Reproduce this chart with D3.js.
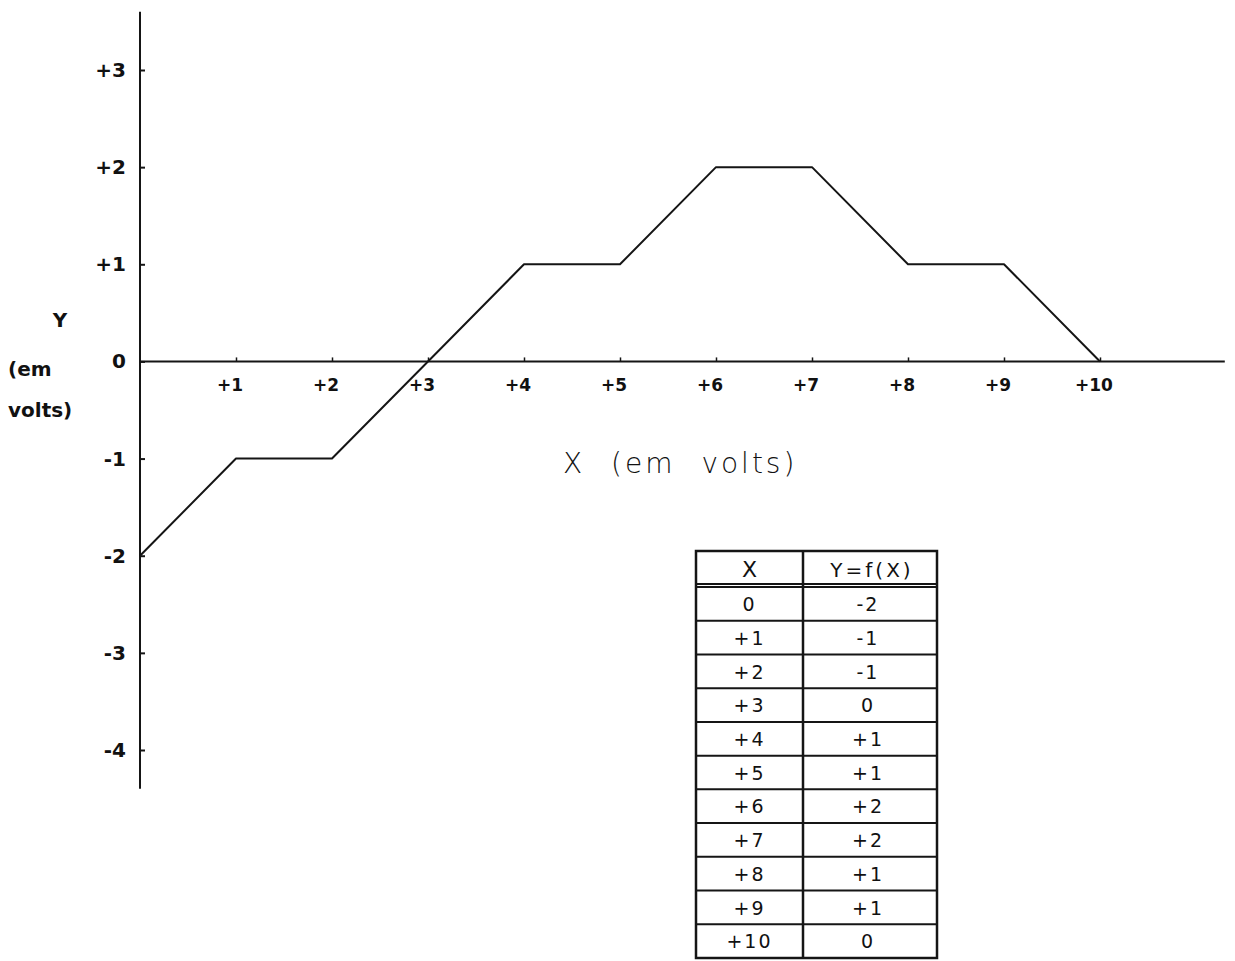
<!DOCTYPE html>
<html>
<head>
<meta charset="utf-8">
<script src="https://cdn.jsdelivr.net/npm/d3@7/dist/d3.min.js"></script>
<style>
  html, body { margin: 0; padding: 0; background: #fff; }
  svg { display: block; }
  text { font-family: "DejaVu Sans", sans-serif; fill: #111; }
</style>
</head>
<body>
<svg id="chart" width="1235" height="961"></svg>
<script>
// Transfer characteristic Y = f(X), both in volts
const xValues = [0, 1, 2, 3, 4, 5, 6, 7, 8, 9, 10];
const yValues = [-2, -1, -1, 0, 1, 1, 2, 2, 1, 1, 0];

const xTicks = [1, 2, 3, 4, 5, 6, 7, 8, 9, 10];
const xTickLabels = ["+1", "+2", "+3", "+4", "+5", "+6", "+7", "+8", "+9", "+10"];
const yTicks = [3, 2, 1, 0, -1, -2, -3, -4];
const yTickLabels = ["+3", "+2", "+1", "0", "-1", "-2", "-3", "-4"];

const tableHeader = ["X", "Y=f(X)"];
const tableX = ["0", "+1", "+2", "+3", "+4", "+5", "+6", "+7", "+8", "+9", "+10"];
const tableY = ["-2", "-1", "-1", "0", "+1", "+1", "+2", "+2", "+1", "+1", "0"];

const svg = d3.select("#chart");
const ink = "#151515";

const x = d3.scaleLinear().domain([0, 10]).range([140, 1100]);
const y = d3.scaleLinear().domain([-4, 3]).range([750, 70]);

// vertical axis (Y)
const yAxis = d3.axisRight(y)
  .tickValues(yTicks)
  .tickSize(5)
  .tickFormat("");
const gy = svg.append("g").attr("transform", `translate(${x(0)},0)`).call(yAxis);
gy.select(".domain").remove();
gy.selectAll(".tick line").attr("stroke", ink).attr("stroke-width", 2);
svg.append("line")
  .attr("x1", x(0)).attr("x2", x(0))
  .attr("y1", y(3.6)).attr("y2", y(-4.4))
  .attr("stroke", ink).attr("stroke-width", 2);

// horizontal axis (X)
const xAxis = d3.axisTop(x)
  .tickValues(xTicks)
  .tickSize(4)
  .tickFormat("");
const gx = svg.append("g").attr("transform", `translate(0,${y(0)})`).call(xAxis);
gx.select(".domain").remove();
gx.selectAll(".tick line").attr("stroke", ink).attr("stroke-width", 1.5);
svg.append("line")
  .attr("x1", x(0)).attr("x2", x(11.3))
  .attr("y1", y(0)).attr("y2", y(0))
  .attr("stroke", ink).attr("stroke-width", 2);

// y tick labels
svg.append("g").selectAll("text")
  .data(yTicks)
  .join("text")
  .attr("x", x(0) - 14)
  .attr("y", d => y(d))
  .attr("dy", "0.35em")
  .attr("text-anchor", "end")
  .attr("font-size", 20)
  .attr("font-weight", 600)
  .text((d, i) => yTickLabels[i]);

// x tick labels
svg.append("g").selectAll("text")
  .data(xTicks)
  .join("text")
  .attr("x", d => x(d) - 6)
  .attr("y", y(0) + 30)
  .attr("text-anchor", "middle")
  .attr("font-size", 17)
  .attr("font-weight", 600)
  .text((d, i) => xTickLabels[i]);

// axis titles
svg.append("text").attr("x", 60).attr("y", 327).attr("text-anchor", "middle")
  .attr("font-size", 20).attr("font-weight", 600).text("Y");
svg.append("text").attr("x", 8).attr("y", 376)
  .attr("font-size", 20).attr("font-weight", 600).text("(em");
svg.append("text").attr("x", 8).attr("y", 417)
  .attr("font-size", 20).attr("font-weight", 600).text("volts)");
svg.append("text").attr("x", 563).attr("y", 473)
  .attr("font-size", 28).attr("font-weight", 300)
  .attr("letter-spacing", 3).style("word-spacing", "14px")
  .text("X (em volts)");

// the characteristic curve
const line = d3.line()
  .x(d => x(d[0]))
  .y(d => y(d[1]));
svg.append("path")
  .datum(xValues.map((v, i) => [v, yValues[i]]))
  .attr("d", line)
  .attr("fill", "none")
  .attr("stroke", ink)
  .attr("stroke-width", 2)
  .attr("stroke-linejoin", "round");

// value table
const tLeft = 696, tMid = 803, tRight = 937;
const tTop = 551, headerH = 36, tBottom = 958;
const rowH = (tBottom - (tTop + headerH)) / tableX.length;
const table = svg.append("g");

const rowY = d3.scaleLinear().domain([0, tableX.length]).range([tTop + headerH, tBottom]);

table.append("rect")
  .attr("x", tLeft).attr("y", tTop)
  .attr("width", tRight - tLeft).attr("height", tBottom - tTop)
  .attr("fill", "none").attr("stroke", ink).attr("stroke-width", 2.5);
table.append("line")
  .attr("x1", tMid).attr("x2", tMid).attr("y1", tTop).attr("y2", tBottom)
  .attr("stroke", ink).attr("stroke-width", 2.5);
// double rule under the header
[tTop + headerH - 3, tTop + headerH].forEach(yy => {
  table.append("line")
    .attr("x1", tLeft).attr("x2", tRight).attr("y1", yy).attr("y2", yy)
    .attr("stroke", ink).attr("stroke-width", 2);
});
table.selectAll(".row-rule")
  .data(d3.range(1, tableX.length))
  .join("line")
  .attr("class", "row-rule")
  .attr("x1", tLeft).attr("x2", tRight)
  .attr("y1", d => rowY(d)).attr("y2", d => rowY(d))
  .attr("stroke", ink).attr("stroke-width", 2);

table.append("text").attr("x", (tLeft + tMid) / 2).attr("y", tTop + 26)
  .attr("text-anchor", "middle").attr("font-size", 22).text(tableHeader[0]);
table.append("text").attr("x", (tMid + tRight) / 2 + 2).attr("y", tTop + 26)
  .attr("text-anchor", "middle").attr("font-size", 20)
  .attr("letter-spacing", 3).text(tableHeader[1]);

table.selectAll(".cx")
  .data(tableX)
  .join("text")
  .attr("class", "cx")
  .attr("x", (tLeft + tMid) / 2)
  .attr("y", (d, i) => rowY(i) + rowH / 2)
  .attr("dy", "0.38em")
  .attr("text-anchor", "middle")
  .attr("font-size", 19)
  .attr("letter-spacing", 2)
  .text(d => d);
table.selectAll(".cy")
  .data(tableY)
  .join("text")
  .attr("class", "cy")
  .attr("x", (tMid + tRight) / 2 - 2)
  .attr("y", (d, i) => rowY(i) + rowH / 2)
  .attr("dy", "0.38em")
  .attr("text-anchor", "middle")
  .attr("font-size", 19)
  .attr("letter-spacing", 2)
  .text(d => d);
</script>
</body>
</html>
